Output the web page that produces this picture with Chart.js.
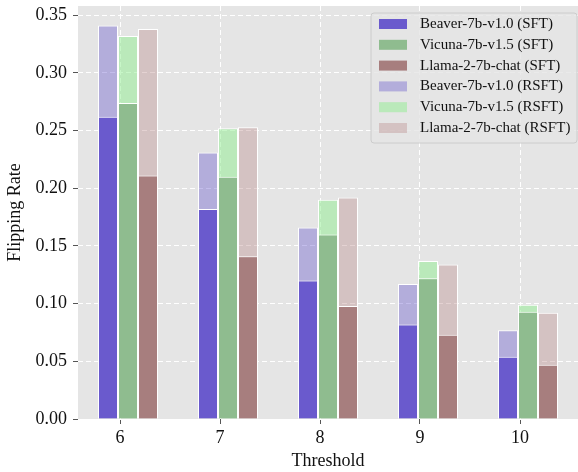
<!DOCTYPE html>
<html>
<head>
<meta charset="utf-8">
<script src="https://cdn.jsdelivr.net/npm/chart.js@4"></script>
<style>
  html, body { margin: 0; padding: 0; background: #fff; }
  #wrap { width: 578px; height: 472px; position: relative; }
</style>
</head>
<body>
<div id="wrap"><canvas id="myChart"></canvas></div>
<script>
var thresholds = [6, 7, 8, 9, 10];
var yTicks = [0, 0.05, 0.10, 0.15, 0.20, 0.25, 0.30, 0.35];

var models = ["Beaver-7b-v1.0", "Vicuna-7b-v1.5", "Llama-2-7b-chat"];

var beaverSFT  = [0.262, 0.182, 0.120, 0.082, 0.054];
var vicunaSFT  = [0.274, 0.210, 0.160, 0.122, 0.093];
var llamaSFT   = [0.211, 0.141, 0.098, 0.073, 0.047];
var beaverRSFT = [0.341, 0.231, 0.166, 0.117, 0.077];
var vicunaRSFT = [0.332, 0.252, 0.190, 0.137, 0.099];
var llamaRSFT  = [0.338, 0.253, 0.192, 0.134, 0.092];

var sftColors  = ["#6a5acd", "#8fbc8f", "#a77e7e"];
var rsftColors = ["rgba(106,90,205,0.4)", "rgba(144,238,144,0.5)", "rgba(188,143,143,0.4)"];

var serif = "'Liberation Serif', 'DejaVu Serif', serif";

// same stack key = same slot; y is not stacked so the bars just overlap
function bar(label, data, color, stack, order) {
  return {
    label: label,
    data: data,
    backgroundColor: color,
    borderColor: "#ffffff",
    borderWidth: 1,
    stack: stack,
    order: order,
    barPercentage: 1.0,
    categoryPercentage: 0.6
  };
}

var panelBg = {
  id: "panelBg",
  beforeDraw: function (chart) {
    var a = chart.chartArea, ctx = chart.ctx;
    ctx.save();
    ctx.fillStyle = "#e5e5e5";
    ctx.fillRect(a.left, a.top, a.right - a.left, a.bottom - a.top);
    ctx.restore();
  }
};

var boxLegend = {
  id: "boxLegend",
  afterDraw: function (chart) {
    var ctx = chart.ctx;
    var x = 371, y = 13, w = 206, h = 130, r = 3;
    ctx.save();
    ctx.beginPath();
    ctx.moveTo(x + r, y);
    ctx.arcTo(x + w, y, x + w, y + h, r);
    ctx.arcTo(x + w, y + h, x, y + h, r);
    ctx.arcTo(x, y + h, x, y, r);
    ctx.arcTo(x, y, x + w, y, r);
    ctx.closePath();
    ctx.fillStyle = "rgba(229,229,229,0.8)";
    ctx.fill();
    ctx.strokeStyle = "#cccccc";
    ctx.lineWidth = 1;
    ctx.stroke();
    ctx.font = "15px " + serif;
    ctx.textBaseline = "middle";
    chart.data.datasets.forEach(function (ds, i) {
      var cy = 24 + i * 20.8;
      ctx.fillStyle = ds.backgroundColor;
      ctx.fillRect(379, cy - 5, 28, 10);
      ctx.fillStyle = "#111";
      ctx.fillText(ds.label, 420, cy);
    });
    ctx.restore();
  }
};

new Chart("myChart", {
  type: "bar",
  data: {
    labels: thresholds,
    datasets: [
      bar(models[0] + " (SFT)", beaverSFT, sftColors[0], "b", 1),
      bar(models[1] + " (SFT)", vicunaSFT, sftColors[1], "v", 1),
      bar(models[2] + " (SFT)", llamaSFT, sftColors[2], "l", 1),
      bar(models[0] + " (RSFT)", beaverRSFT, rsftColors[0], "b", 2),
      bar(models[1] + " (RSFT)", vicunaRSFT, rsftColors[1], "v", 2),
      bar(models[2] + " (RSFT)", llamaRSFT, rsftColors[2], "l", 2)
    ]
  },
  options: {
    responsive: true,
    maintainAspectRatio: false,
    animation: false,
    layout: { padding: { top: 6, right: 0, left: 0, bottom: 0 } },
    plugins: {
      legend: { display: false },
      tooltip: { enabled: false }
    },
    scales: {
      x: { type: "category", display: false, offset: true, stacked: true },
      xt: {
        type: "linear",
        position: "bottom",
        min: 5.58,
        max: 10.58,
        offset: false,
        afterBuildTicks: function (s) {
          s.ticks = thresholds.map(function (v) { return { value: v }; });
        },
        afterFit: function (s) { s.height = 53; s.paddingLeft = 0; s.paddingRight = 0; },
        grid: { offset: false, color: "#ffffff", lineWidth: 1, tickColor: "#555555", tickLength: 5 },
        border: { display: false, dash: [5, 3] },
        ticks: { color: "#111", font: { family: serif, size: 18 }, padding: 3 },
        title: { display: true, text: "Threshold", color: "#111", font: { family: serif, size: 18 }, padding: { top: 0, bottom: 0 } }
      },
      y: {
        min: 0,
        max: 0.358,
        stacked: false,
        afterBuildTicks: function (s) {
          s.ticks = yTicks.map(function (v) { return { value: v }; });
        },
        afterFit: function (s) { s.width = 78; s.paddingTop = 0; s.paddingBottom = 0; },
        grid: { color: "#ffffff", lineWidth: 1, tickColor: "#555555", tickLength: 5 },
        border: { display: false, dash: [5, 3] },
        ticks: {
          color: "#111",
          font: { family: serif, size: 18 },
          padding: 6,
          callback: function (v) { return v.toFixed(2); }
        },
        title: { display: true, text: "Flipping Rate", color: "#111", font: { family: serif, size: 18 }, padding: { top: 4, bottom: 2 } }
      }
    }
  },
  plugins: [panelBg, boxLegend]
});
</script>
</body>
</html>
